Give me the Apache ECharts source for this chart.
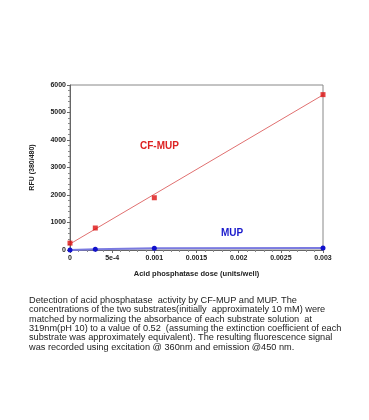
<!DOCTYPE html>
<html><head><meta charset="utf-8">
<script src="https://cdn.jsdelivr.net/npm/echarts@6/dist/echarts.min.js"></script>
<style>html,body{margin:0;padding:0;background:#fff}#c{width:369px;height:420px}</style>
</head><body><div id="c"></div>
<script>
var doses = [0, 0.0003, 0.001, 0.003];
var cfMup = [250, 800, 1900, 5650];
var mup = [0, 30, 60, 70];
var fitX = [0, 0.003];
var fitY = [220, 5640];
var xTicks = ['0', '5e-4', '0.001', '0.0015', '0.002', '0.0025', '0.003'];
var yTicks = ['0', '1000', '2000', '3000', '4000', '5000', '6000'];
var caption = [
  'Detection of acid phosphatase  activity by CF-MUP and MUP. The',
  'concentrations of the two substrates(initially  approximately 10 mM) were',
  'matched by normalizing the absorbance of each substrate solution  at',
  '319nm(pH 10) to a value of 0.52  (assuming the extinction coefficient of each',
  'substrate was approximately equivalent). The resulting fluorescence signal',
  'was recorded using excitation @ 360nm and emission @450 nm.'
];
function pairs(xs, ys){ return xs.map(function(x,i){return [x, ys[i]];}); }
var chart = echarts.init(document.getElementById('c'));
var lblFont = {fontFamily:'Liberation Sans, Arial', fontSize:7, fontWeight:'bold', color:'#222'};
chart.setOption({
  animation:false,
  grid:{left:70, right:46, top:85, bottom:170, show:true, borderColor:'#888', borderWidth:1},
  xAxis:{type:'value', min:0, max:0.003, interval:0.0005,
    name:'Acid phosphatase dose (units/well)', nameLocation:'middle', nameGap:20,
    nameTextStyle:{fontFamily:'Liberation Sans, Arial', fontSize:7.5, fontWeight:'bold', color:'#222'},
    axisLine:{lineStyle:{color:'#666'}},
    axisTick:{show:true, length:3, lineStyle:{color:'#666'}},
    minorTick:{show:true, splitNumber:5, length:2, lineStyle:{color:'#888'}},
    splitLine:{show:false},
    axisLabel:Object.assign({margin:5, formatter:function(v){return xTicks[Math.round(v/0.0005)];}}, lblFont)
  },
  yAxis:{type:'value', min:0, max:6000, interval:1000,
    name:'RFU (380/480)', nameLocation:'middle', nameGap:34,
    nameTextStyle:{fontFamily:'Liberation Sans, Arial', fontSize:7, fontWeight:'bold', color:'#222'},
    axisLine:{show:true, lineStyle:{color:'#666'}},
    axisTick:{show:true, length:3, lineStyle:{color:'#666'}},
    minorTick:{show:true, splitNumber:5, length:2, lineStyle:{color:'#888'}},
    splitLine:{show:false},
    axisLabel:Object.assign({margin:4, formatter:function(v){return yTicks[Math.round(v/1000)];}}, lblFont)
  },
  series:[
    {type:'line', data:pairs(fitX, fitY), symbol:'none', lineStyle:{color:'#e07070', width:1}, silent:true, z:2},
    {type:'scatter', data:pairs(doses, cfMup), symbol:'rect', symbolSize:5, itemStyle:{color:'#dd1111'}, z:4},
    {type:'line', data:pairs(doses, mup), symbol:'circle', symbolSize:5, itemStyle:{color:'#1111cc'}, lineStyle:{color:'#7a7ae0', width:2}, z:3}
  ],
  graphic:[
    {type:'text', left:140, top:141, style:{text:'CF-MUP', fill:'#dd2222', font:'bold 10px Liberation Sans, Arial'}},
    {type:'text', left:221, top:228, style:{text:'MUP', fill:'#1a1acc', font:'bold 10px Liberation Sans, Arial'}},
    {type:'text', left:29, top:296, style:{text:caption.join('\n'), fill:'#222', font:'9.2px Liberation Sans, Arial', lineHeight:9.3}}
  ]
});
</script></body></html>
